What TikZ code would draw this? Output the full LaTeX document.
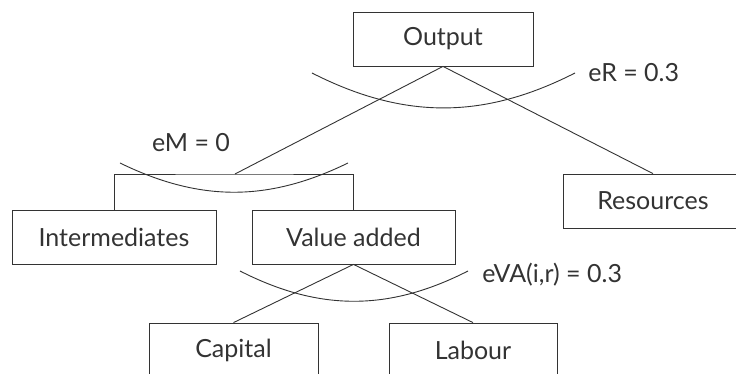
\documentclass[tikz,border=0pt]{standalone}
\usepackage{fontspec}
\setmainfont{Lato}
\usetikzlibrary{positioning}
\definecolor{ink}{HTML}{333333}

\begin{document}
\begin{tikzpicture}[x=0.5pt,y=-0.5pt,box/.style={draw=ink,align=center,minimum height=27pt,inner sep=0pt,font=\fontsize{12.5}{15}\selectfont,text=ink},lbl/.style={font=\fontsize{12.5}{15}\selectfont,text=ink,inner sep=0pt},link/.style={draw=ink,line width=0.45pt},nest/.style={draw=ink,line width=0.45pt}]
\useasboundingbox (0,0) rectangle (736,374);
\node[box,minimum width=90pt] (out) at (443,39) {Output};
\node[box,minimum width=102pt] (inter) at (114,237) {Intermediates}; \node[box,minimum width=101.5pt] (va) at (353.5,237) {Value added}; \node[box,minimum width=90pt] (res) at (653,201) {Resources};
\node[box,minimum width=84.5pt] (cap) at (233.5,350) {Capital}; \node[box,minimum width=84pt] (lab) at (473,350) {Labour};
\coordinate (mid) at (235,174);
\draw[link] (out.south)--(mid); \draw[link] (out.south)--(res.north);
\draw[link] (inter.north) |- (mid) -| (va.north);
\draw[link] (va.south)--(cap.north); \draw[link] (va.south)--(lab.north);
% substitution arcs
\coordinate (rL) at (312,73); \coordinate (rR) at (575,73);
\coordinate (mL) at (120,163); \coordinate (mR) at (348,163);
\coordinate (vL) at (240,271); \coordinate (vR) at (468,271);
\draw[nest] (rL) to[bend right=27] (rR); \draw[nest] (mL) to[bend right=26] (mR); \draw[nest] (vL) to[bend right=27] (vR);
\node[lbl,right=6.5pt of rR] (eR) {eR = 0.3};
\node[lbl] (eM) at (191,143) {eM = 0};
\node[lbl,right=7pt of vR,yshift=-2pt] (eVA) {eVA(i,r) = 0.3};
\end{tikzpicture}
\end{document}
